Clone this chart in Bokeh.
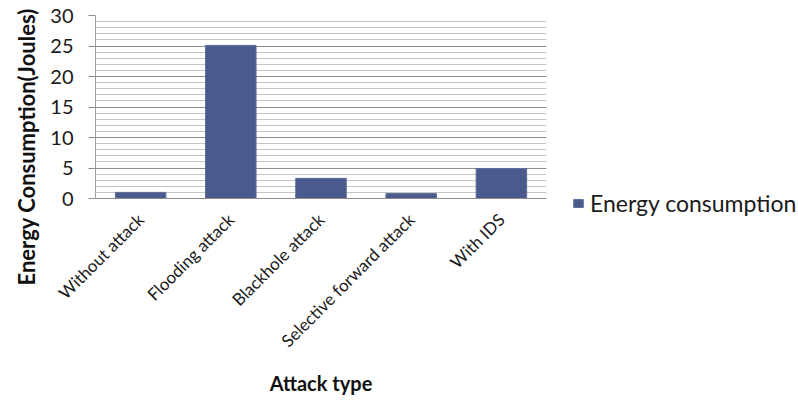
from math import pi

from bokeh.embed import file_html
from bokeh.models import (ColumnDataSource, FactorRange, Legend, LegendItem,
                          Range1d, SingleIntervalTicker, Title)
from bokeh.plotting import figure
from bokeh.resources import INLINE

# Energy consumed per attack scenario (Joules)
attack_types = ["Without attack", "Flooding attack", "Blackhole attack",
                "Selective forward attack", "With IDS"]
energy_joules = [1.0, 25.1, 3.3, 0.8, 4.9]
series_name = "Energy consumption"

FONT = "Lato"
BAR_COLOR = "#4a5a8c"
BAR_EDGE = "#5d6d9c"
TEXT_COLOR = "#1a1a1a"

source = ColumnDataSource(dict(attack=attack_types, energy=energy_joules))

# Fixed plotting area; the borders around it make up the 798 x 401 canvas
p = figure(
    frame_width=451, frame_height=183,
    x_range=FactorRange(*attack_types, range_padding=0),
    y_range=Range1d(0, 30),
    output_backend="svg", toolbar_location=None,
    min_border_left=95, min_border_right=252,
    min_border_top=15, min_border_bottom=203,
)
p.outline_line_color = None
p.background_fill_color = "white"
p.border_fill_color = "white"

bars = p.vbar(x="attack", top="energy", width=0.56, source=source,
              fill_color=BAR_COLOR, line_color=BAR_EDGE, line_width=1)

# Value axis: major ticks every 5, light lines at every unit
p.yaxis.ticker = SingleIntervalTicker(interval=5, num_minor_ticks=5)
p.yaxis.axis_line_color = "#a0a0a0"
p.yaxis.major_tick_line_color = "#8c8c8c"
p.yaxis.major_tick_in = 0
p.yaxis.major_tick_out = 7
p.yaxis.minor_tick_line_color = None
p.yaxis.major_label_text_font = FONT
p.yaxis.major_label_text_font_size = "20px"
p.yaxis.major_label_text_color = TEXT_COLOR
p.yaxis.major_label_standoff = 15

p.ygrid.grid_line_color = "#8c8c8c"
p.ygrid.grid_line_width = 1
p.ygrid.minor_grid_line_color = "#c4c4c4"
p.ygrid.minor_grid_line_width = 1
p.xgrid.grid_line_color = None

# Category axis with slanted labels
p.xaxis.axis_line_color = "#8c8c8c"
p.xaxis.major_tick_line_color = None
p.xaxis.minor_tick_line_color = None
p.xaxis.major_label_orientation = pi / 4
p.xaxis.major_label_text_font = FONT
p.xaxis.major_label_text_font_size = "17px"
p.xaxis.major_label_text_color = TEXT_COLOR
p.xaxis.major_label_standoff = 12
p.xaxis.axis_label = "Attack type"
p.xaxis.axis_label_text_font = FONT
p.xaxis.axis_label_text_font_style = "bold"
p.xaxis.axis_label_text_font_size = "20px"
p.xaxis.axis_label_text_color = "#111111"
p.xaxis.axis_label_standoff = 10

# Vertical title: starts below the frame's bottom edge and reads upward
p.add_layout(Title(
    text="Energy Consumption(Joules)", align="left", offset=-87,
    text_font=FONT, text_font_style="bold", text_font_size="22px",
    text_color="#111111", standoff=16,
), "left")

legend = Legend(
    items=[LegendItem(label=series_name, renderers=[bars])],
    location=(26, -19),
    border_line_color=None, background_fill_alpha=0,
    label_text_font=FONT, label_text_font_size="23px",
    label_text_color=TEXT_COLOR,
    glyph_width=12, glyph_height=10, label_standoff=6,
    padding=0, margin=0,
)
p.add_layout(legend, "right")

open("out.html", "w").write(file_html(p, INLINE))
